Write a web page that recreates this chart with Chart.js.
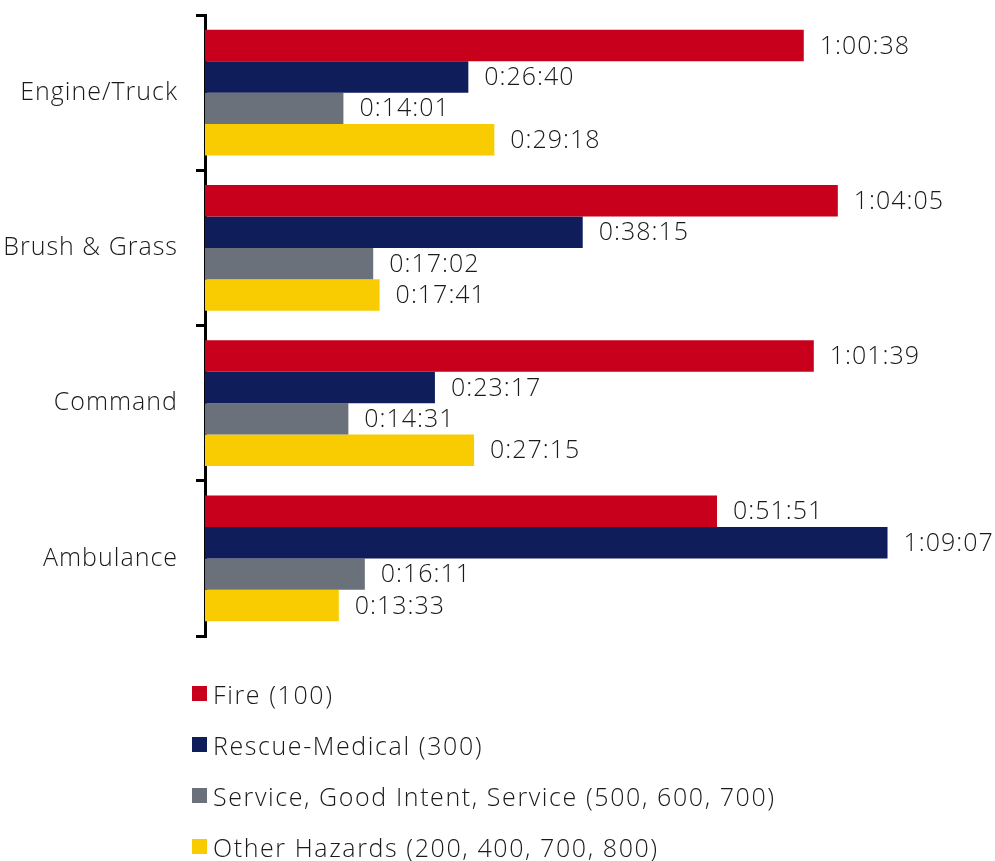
<!DOCTYPE html>
<html>
<head>
<meta charset="utf-8">
<script src="https://cdn.jsdelivr.net/npm/chart.js@4/dist/chart.umd.min.js"></script>
<style>
  html, body { margin: 0; padding: 0; background: #fff; }
  body { width: 995px; height: 861px; position: relative; overflow: hidden; font-family: "Open Sans", sans-serif; }
  #wrap { position: absolute; left: 0; top: -18px; width: 995px; height: 687px; }
  #legend { position: absolute; left: 192px; top: 668px; }
  .item { height: 51px; display: flex; align-items: center; font-size: 25px; font-weight: 300; letter-spacing: 1.6px; color: #1a1a1a; }
  .box { width: 15px; height: 15px; margin-right: 6px; flex: none; }
</style>
</head>
<body>
<div id="wrap"><canvas id="myChart"></canvas></div>
<div id="legend"></div>
<script>
const categories = ['Engine/Truck', 'Brush & Grass', 'Command', 'Ambulance'];
const seriesNames = [
  'Fire (100)',
  'Rescue-Medical (300)',
  'Service, Good Intent, Service (500, 600, 700)',
  'Other Hazards (200, 400, 700, 800)'
];
const seriesColors = ['#C8001B', '#0F1D5B', '#6A717A', '#F9CC02'];

// average times per unit type, h:mm:ss
const fireTimes    = ['1:00:38', '1:04:05', '1:01:39', '0:51:51'];
const medicalTimes = ['0:26:40', '0:38:15', '0:23:17', '1:09:07'];
const serviceTimes = ['0:14:01', '0:17:02', '0:14:31', '0:16:11'];
const hazardTimes  = ['0:29:18', '0:17:41', '0:27:15', '0:13:33'];

const allTimes = [fireTimes, medicalTimes, serviceTimes, hazardTimes];

function toSeconds(t) {
  const p = t.split(':').map(Number);
  return p[0] * 3600 + p[1] * 60 + p[2];
}

// wider tracking on all canvas text
const spacing = {
  id: 'spacing',
  beforeLayout(chart) { chart.ctx.letterSpacing = '1px'; },
  beforeDraw(chart) { chart.ctx.letterSpacing = '1px'; }
};

// value labels at the end of each bar
const barLabels = {
  id: 'barLabels',
  afterDatasetsDraw(chart) {
    const ctx = chart.ctx;
    ctx.save();
    ctx.font = '300 25px "Open Sans"';
    ctx.letterSpacing = '1px';
    ctx.fillStyle = '#1a1a1a';
    ctx.textAlign = 'left';
    ctx.textBaseline = 'middle';
    chart.data.datasets.forEach((ds, i) => {
      chart.getDatasetMeta(i).data.forEach((bar, j) => {
        ctx.fillText(ds.timeLabels[j], bar.x + 16, bar.y + 1);
      });
    });
    ctx.restore();
  }
};

const chart = new Chart(document.getElementById('myChart'), {
  type: 'bar',
  data: {
    labels: categories,
    datasets: seriesNames.map((name, i) => ({
      label: name,
      data: allTimes[i].map(toSeconds),
      timeLabels: allTimes[i],
      backgroundColor: seriesColors[i],
      borderWidth: 0,
      categoryPercentage: 0.81,
      barPercentage: 1.0
    }))
  },
  options: {
    indexAxis: 'y',
    responsive: true,
    maintainAspectRatio: false,
    animation: false,
    layout: { padding: { top: 14, bottom: 14, left: 0, right: 0 } },
    plugins: {
      legend: { display: false },
      tooltip: { enabled: false }
    },
    scales: {
      x: {
        display: false,
        min: 0,
        max: 4800
      },
      y: {
        afterFit(scale) { scale.width = 205; },
        grid: {
          offset: true,
          drawOnChartArea: false,
          drawTicks: true,
          tickLength: 9,
          color: '#000',
          lineWidth: 3
        },
        border: { display: true, color: '#000', width: 3 },
        ticks: {
          padding: 18,
          color: '#1a1a1a',
          font: { family: 'Open Sans', size: 25, weight: 300 }
        }
      }
    }
  },
  plugins: [spacing, barLabels]
});

// legend, one series per row
const legendEl = document.getElementById('legend');
chart.data.datasets.forEach(ds => {
  const row = document.createElement('div');
  row.className = 'item';
  const box = document.createElement('span');
  box.className = 'box';
  box.style.background = ds.backgroundColor;
  row.appendChild(box);
  row.appendChild(document.createTextNode(ds.label));
  legendEl.appendChild(row);
});
</script>
</body>
</html>
